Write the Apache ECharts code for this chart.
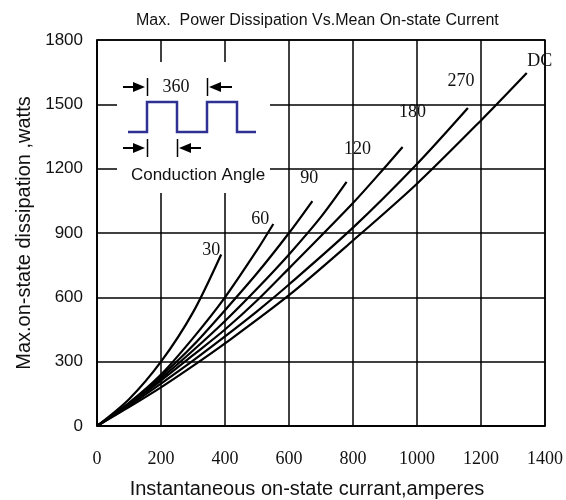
<!DOCTYPE html>
<html>
<head>
<meta charset="utf-8">
<script src="https://cdn.jsdelivr.net/npm/echarts@6/dist/echarts.min.js"></script>
<style>
  html, body { margin: 0; padding: 0; background: #fff; }
  #chart { width: 566px; height: 500px; }
</style>
</head>
<body>
<div id="chart"></div>
<script>
// ---- Data (current A, dissipation W) ----
const curveNames = ['30', '60', '90', '120', '180', '270', 'DC'];
const curve30  = [[0,0],[100,125],[200,300],[300,530],[388,800]];
const curve60  = [[0,0],[100,108],[200,240],[300,410],[400,600],[500,820],[551,942]];
const curve90  = [[0,0],[100,105],[200,232],[300,375],[400,540],[500,712],[600,900],[673,1049]];
const curve120 = [[0,0],[100,102],[200,222],[300,352],[400,490],[500,640],[600,800],[700,975],[780,1138]];
const curve180 = [[0,0],[100,100],[200,212],[300,330],[400,450],[500,585],[600,735],[800,1040],[905,1215],[955,1301]];
const curve270 = [[0,0],[100,95],[200,198],[300,305],[400,418],[500,535],[600,660],[800,925],[1000,1222],[1159,1483]];
const curveDC  = [[0,0],[100,88],[200,180],[300,280],[400,385],[600,610],[800,865],[1000,1130],[1200,1425],[1343,1646]];
const curves = [curve30, curve60, curve90, curve120, curve180, curve270, curveDC];

const xMin = 0, xMax = 1400, xStep = 200;
const yMin = 0, yMax = 1800, yStep = 300;

const titleText = 'Max.  Power Dissipation Vs.Mean On-state Current';
const xName = 'Instantaneous on-state currant,amperes';
const yName = 'Max.on-state dissipation ,watts';
const insetPeriodText = '360';
const insetCaption = 'Conduction Angle';

// label placement (style, pixels relative to curve end)
const labelShift = [[-10,-4],[-13,-5],[-3,-23],[11,-33],[10,-35],[-7,-27],[13,-12]];

const chart = echarts.init(document.getElementById('chart'));

const series = curves.map((pts, k) => ({
  type: 'line',
  name: curveNames[k],
  smooth: 0.3,
  showSymbol: true,
  symbol: 'circle',
  symbolSize: 2,
  itemStyle: { color: 'rgba(0,0,0,0)' },
  lineStyle: { color: '#000', width: 2.2 },
  emphasis: { disabled: true },
  silent: true,
  z: 3,
  data: pts.map((p, i) => i === pts.length - 1 ? {
    value: p,
    label: {
      show: true,
      formatter: curveNames[k],
      position: [labelShift[k][0] + 1, labelShift[k][1] + 1],
      align: 'center',
      verticalAlign: 'middle',
      color: '#111',
      fontFamily: 'Liberation Serif',
      fontSize: 18
    }
  } : p)
}));

const blk = '#000';
const plain = v => String(v);
const option = {
  animation: false,
  backgroundColor: '#fff',
  title: {
    text: titleText,
    left: 131, top: 8,
    textStyle: { fontFamily: 'Liberation Sans', fontSize: 16, fontWeight: 'normal', color: '#111' }
  },
  grid: { left: 97, right: 21, top: 40, bottom: 74, outerBoundsMode: 'none', containLabel: false,
          show: true, borderColor: blk, borderWidth: 1.5 },
  xAxis: {
    type: 'value', min: xMin, max: xMax, interval: xStep,
    name: xName, nameLocation: 'middle', nameGap: 53,
    nameTextStyle: { fontFamily: 'Liberation Sans', fontSize: 20, color: '#111', padding: [0, 28, 0, 0] },
    axisLine: { show: true, lineStyle: { color: blk, width: 1.5 } },
    axisTick: { show: false },
    splitLine: { show: true, lineStyle: { color: blk, width: 1.5 } },
    axisLabel: { formatter: plain, fontFamily: 'Liberation Serif', fontSize: 18, color: '#111', margin: 24 }
  },
  yAxis: {
    type: 'value', min: yMin, max: yMax, interval: yStep,
    name: yName, nameLocation: 'middle', nameGap: 62, nameRotate: 90,
    nameTextStyle: { fontFamily: 'Liberation Sans', fontSize: 20, color: '#111' },
    axisLine: { show: true, lineStyle: { color: blk, width: 1.5 } },
    axisTick: { show: false },
    splitLine: { show: true, lineStyle: { color: blk, width: 1.5 } },
    axisLabel: { formatter: plain, fontFamily: 'Liberation Sans', fontSize: 17, color: '#111', margin: 14 }
  },
  graphic: [
    { type: 'rect', z: 50, shape: { x: 117, y: 62, width: 153, height: 131 }, style: { fill: '#fff' } },
    { type: 'polyline', z: 51, shape: { points: [[128,132],[147,132],[147,102],[177,102],[177,132],[207,132],[207,102],[237,102],[237,132],[256,132]] },
      style: { stroke: '#2e3192', lineWidth: 2.5, fill: null } },
    // top arrows
    { type: 'line', z: 51, shape: { x1: 123, y1: 87, x2: 135, y2: 87 }, style: { stroke: blk, lineWidth: 2 } },
    { type: 'polygon', z: 51, shape: { points: [[133,82],[145,87],[133,92]] }, style: { fill: blk } },
    { type: 'line', z: 51, shape: { x1: 147.5, y1: 78, x2: 147.5, y2: 96 }, style: { stroke: blk, lineWidth: 1.5 } },
    { type: 'line', z: 51, shape: { x1: 207.5, y1: 78, x2: 207.5, y2: 96 }, style: { stroke: blk, lineWidth: 1.5 } },
    { type: 'polygon', z: 51, shape: { points: [[209,87],[221,82],[221,92]] }, style: { fill: blk } },
    { type: 'line', z: 51, shape: { x1: 219, y1: 87, x2: 232, y2: 87 }, style: { stroke: blk, lineWidth: 2 } },
    // bottom arrows
    { type: 'line', z: 51, shape: { x1: 123, y1: 148, x2: 135, y2: 148 }, style: { stroke: blk, lineWidth: 2 } },
    { type: 'polygon', z: 51, shape: { points: [[133,143],[145,148],[133,153]] }, style: { fill: blk } },
    { type: 'line', z: 51, shape: { x1: 147.5, y1: 139, x2: 147.5, y2: 157 }, style: { stroke: blk, lineWidth: 1.5 } },
    { type: 'line', z: 51, shape: { x1: 177.5, y1: 139, x2: 177.5, y2: 157 }, style: { stroke: blk, lineWidth: 1.5 } },
    { type: 'polygon', z: 51, shape: { points: [[179,148],[191,143],[191,153]] }, style: { fill: blk } },
    { type: 'line', z: 51, shape: { x1: 189, y1: 148, x2: 201, y2: 148 }, style: { stroke: blk, lineWidth: 2 } },
    { type: 'text', z: 51, x: 176, y: 87, style: { text: insetPeriodText, fontFamily: 'Liberation Serif', fontSize: 18, fill: '#111', align: 'center', verticalAlign: 'middle' } },
    { type: 'text', z: 51, x: 198, y: 175, style: { text: insetCaption, fontFamily: 'Liberation Sans', fontSize: 17, fill: '#111', align: 'center', verticalAlign: 'middle' } }
  ],
  series: series
};
chart.setOption(option);
</script>
</body>
</html>
